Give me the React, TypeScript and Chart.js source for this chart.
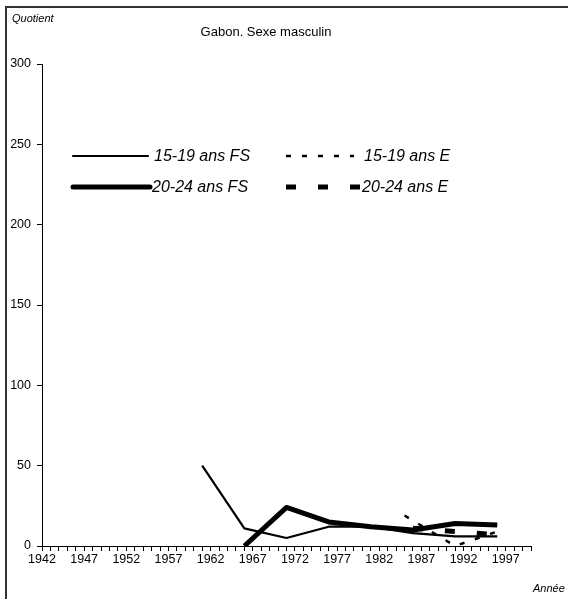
import React, { useEffect, useRef } from "react";
import { Chart, registerables } from "chart.js";

Chart.register(...registerables);

const FS_YEARS = [1961, 1966, 1971, 1976, 1981, 1986, 1991, 1996];
const M15_19_FS = [50, 11, 5, 12, 12, 8, 6, 6];
const M20_24_FS = [null, 0, 24, 15, 12, 10, 14, 13];
const E15_YEARS = [1985, 1991, 1996];
const M15_19_E = [19, 0, 9];
const E20_YEARS = [1986, 1991, 1996];
const M20_24_E = [11, 9, 7];
const LABEL_YEARS = [1942, 1947, 1952, 1957, 1962, 1967, 1972, 1977, 1982, 1987, 1992, 1997];
const SERIES_LABELS = ["15-19 ans FS", "20-24 ans FS", "15-19 ans E", "20-24 ans E"];
const TITLE = "Gabon. Sexe masculin";
const Y_TITLE = "Quotient";
const X_TITLE = "Année";

const FONT = '"Liberation Sans", Arial, sans-serif';

function pts(xs: number[], ys: (number | null)[]) {
  return xs.map((x, i) => ({ x, y: ys[i] }));
}

const decorPlugin = {
  id: "decor",
  beforeDraw(chart: any) {
    const ctx = chart.ctx;
    ctx.save();
    ctx.fillStyle = "#ffffff";
    ctx.fillRect(0, 0, chart.width, chart.height);
    ctx.strokeStyle = "#333333";
    ctx.lineWidth = 2;
    ctx.strokeRect(6, 7, 1000, 1000);
    ctx.restore();
  },
  afterDraw(chart: any) {
    const ctx = chart.ctx;
    ctx.save();
    ctx.fillStyle = "#000";
    ctx.textBaseline = "middle";
    ctx.textAlign = "center";
    ctx.font = `13px ${FONT}`;
    ctx.fillText(TITLE, 266, 32);
    ctx.textAlign = "left";
    ctx.font = `italic 11px ${FONT}`;
    ctx.fillText(Y_TITLE, 12, 19);
    ctx.fillText(X_TITLE, 533, 589);

    // legend
    const items = [
      { ds: 0, x0: 73, x1: 148, tx: 154, y: 156 },
      { ds: 1, x0: 73, x1: 150, tx: 152, y: 187 },
      { ds: 2, x0: 286, x1: 354, tx: 364, y: 156 },
      { ds: 3, x0: 286, x1: 360, tx: 362, y: 187 },
    ];
    ctx.font = `italic 16px ${FONT}`;
    for (const it of items) {
      const d = chart.data.datasets[it.ds];
      ctx.beginPath();
      ctx.strokeStyle = d.borderColor;
      ctx.lineWidth = d.borderWidth;
      ctx.lineCap = d.borderDash && d.borderDash.length ? "butt" : "round";
      ctx.setLineDash(d.borderDash || []);
      ctx.moveTo(it.x0, it.y);
      ctx.lineTo(it.x1, it.y);
      ctx.stroke();
      ctx.setLineDash([]);
      ctx.fillStyle = "#000";
      ctx.fillText(d.label, it.tx, it.y + 1);
    }
    ctx.restore();
  },
};

export default function App() {
  const ref = useRef<HTMLCanvasElement>(null);
  useEffect(() => {
    if (!ref.current) return;
    const chart = new Chart(ref.current, {
      type: "line",
      data: {
        datasets: [
          {
            label: SERIES_LABELS[0],
            data: pts(FS_YEARS, M15_19_FS),
            borderColor: "#000",
            borderWidth: 2.2,
            pointRadius: 0,
            borderJoinStyle: "round",
          },
          {
            label: SERIES_LABELS[1],
            data: pts(FS_YEARS, M20_24_FS),
            borderColor: "#000",
            borderWidth: 5,
            pointRadius: 0,
            borderJoinStyle: "round",
          },
          {
            label: SERIES_LABELS[2],
            data: pts(E15_YEARS, M15_19_E),
            borderColor: "#000",
            borderWidth: 2.5,
            borderDash: [5, 11],
            pointRadius: 0,
          },
          {
            label: SERIES_LABELS[3],
            data: pts(E20_YEARS, M20_24_E),
            borderColor: "#000",
            borderWidth: 5,
            borderDash: [10, 22],
            pointRadius: 0,
          },
        ],
      } as any,
      options: {
        animation: false,
        responsive: false,
        devicePixelRatio: 1,
        layout: { padding: { left: 0, top: 64, right: 37, bottom: 0 } },
        plugins: { legend: { display: false }, tooltip: { enabled: false }, title: { display: false } },
        scales: {
          x: {
            type: "linear",
            min: 1942,
            max: 2000,
            afterFit: (s: any) => {
              s.height = 53;
            },
            border: { display: true, color: "#000", width: 1 },
            grid: { display: true, drawOnChartArea: false, drawTicks: true, tickLength: 5, color: "#000", lineWidth: 1 },
            ticks: {
              stepSize: 1,
              maxTicksLimit: 200,
              autoSkip: false,
              maxRotation: 0,
              padding: 1,
              color: "#000",
              font: { family: FONT, size: 12.5 },
              callback: (v: any) => (LABEL_YEARS.includes(Number(v)) ? String(v) : ""),
            },
          },
          y: {
            min: 0,
            max: 300,
            afterFit: (s: any) => {
              s.width = 42;
            },
            border: { display: true, color: "#000", width: 1 },
            grid: { display: true, drawOnChartArea: false, drawTicks: true, tickLength: 5, color: "#000", lineWidth: 1 },
            ticks: {
              stepSize: 50,
              padding: 6,
              color: "#000",
              font: { family: FONT, size: 12.5 },
            },
          },
        },
      } as any,
      plugins: [decorPlugin],
    });
    return () => chart.destroy();
  }, []);
  return (
    <canvas
      ref={ref}
      width={568}
      height={599}
      style={{ position: "absolute", left: 0, top: 0, display: "block", width: 568, height: 599 }}
    />
  );
}
